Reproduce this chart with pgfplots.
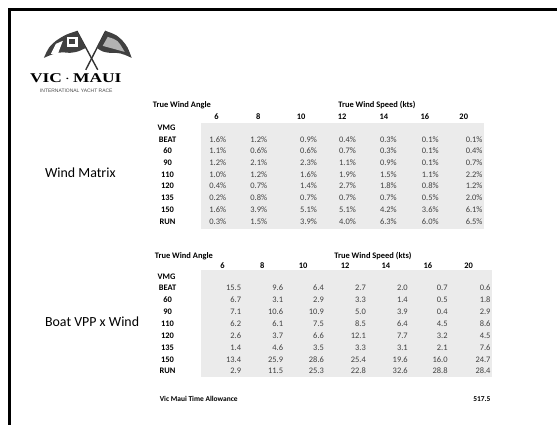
\documentclass[border=0pt]{standalone}
\usepackage{pgfplots}
\pgfplotsset{compat=1.18}
\usepackage{pgfplotstable}
\usepackage{fontspec}
\setmainfont{Carlito}[Numbers=Lining]
\newfontfamily\logoserif{Liberation Serif}
\newfontfamily\logosans{Liberation Sans}
\definecolor{cellgray}{HTML}{EBEBEB}
\definecolor{valtext}{HTML}{404040}

% Wind Matrix (percent); y = baseline position of each row
\pgfplotstableread{
y      lab  a     b     c     d     e     f     g
142.5  BEAT 1.6   1.2   0.9   0.4   0.3   0.1   0.1
154.25 60   1.1   0.6   0.6   0.7   0.3   0.1   0.4
166.0  90   1.2   2.1   2.3   1.1   0.9   0.1   0.7
177.75 110  1.0   1.2   1.6   1.9   1.5   1.1   2.2
189.5  120  0.4   0.7   1.4   2.7   1.8   0.8   1.2
201.25 135  0.2   0.8   0.7   0.7   0.7   0.5   2.0
213.0  150  1.6   3.9   5.1   5.1   4.2   3.6   6.1
224.75 RUN  0.3   1.5   3.9   4.0   6.3   6.0   6.5
}\windmatrix

% Boat VPP x Wind; y = baseline position of each row
\pgfplotstableread{
y      lab  a     b     c     d     e     f     g
291.75 BEAT 15.5  9.6   6.4   2.7   2.0   0.7   0.6
303.6  60   6.7   3.1   2.9   3.3   1.4   0.5   1.8
315.5  90   7.1   10.6  10.9  5.0   3.9   0.4   2.9
327.4  110  6.2   6.1   7.5   8.5   6.4   4.5   8.6
339.25 120  2.6   3.7   6.6   12.1  7.7   3.2   4.5
351.1  135  1.4   4.6   3.5   3.3   3.1   2.1   7.6
363.0  150  13.4  25.9  28.6  25.4  19.6  16.0  24.7
374.75 RUN  2.9   11.5  25.3  22.8  32.6  28.8  28.4
}\vppwind

\begin{document}
\begin{tikzpicture}
\begin{axis}[
  width=558bp, height=426bp, scale only axis,
  xmin=0, xmax=558, ymin=0, ymax=426, y dir=reverse,
  axis lines=none, clip=false,
  every node near coord/.style={font=\fontsize{8.5}{10}\selectfont, inner sep=0pt},
]
% background and slide frame
\fill[white] (axis cs:0,0) rectangle (axis cs:558,426);
\draw[line width=3bp, black] (axis cs:10,426) -- (axis cs:10,10) -- (axis cs:558,10);

% ---- logo (decorative) ----
\draw[line width=1.4bp, black!80] (axis cs:77,31) -- (axis cs:98,70);
\draw[line width=1.4bp, black!80] (axis cs:106,31) -- (axis cs:86,70);
\fill[black!75] (axis cs:77,31) .. controls (axis cs:65,35) .. (axis cs:56,41)
   .. controls (axis cs:49,47) .. (axis cs:44,58)
   .. controls (axis cs:58,52) .. (axis cs:70,53)
   .. controls (axis cs:78,52) .. (axis cs:86,48) -- cycle;
\fill[white] (axis cs:56,44) -- (axis cs:63,41) -- (axis cs:58,54) -- (axis cs:51,54) -- cycle;
\fill[white] (axis cs:67,37) rectangle (axis cs:78,47);
\fill[black!75] (axis cs:69.5,39.5) rectangle (axis cs:75.5,44.5);
\fill[black!75] (axis cs:106,31) .. controls (axis cs:117,35) .. (axis cs:123,41)
   .. controls (axis cs:128,47) .. (axis cs:132,58)
   .. controls (axis cs:121,53) .. (axis cs:110,53)
   .. controls (axis cs:103,52) .. (axis cs:97,48) -- cycle;
\fill[black!30] (axis cs:108,37) .. controls (axis cs:118,40) .. (axis cs:125,52)
   .. controls (axis cs:115,49) .. (axis cs:103,46) -- cycle;
\node[anchor=center, inner sep=0pt] at (axis cs:76,78)
  {\scalebox{1.3}[1]{\logoserif\bfseries\fontsize{13.5}{14}\selectfont VIC\,$\cdot$\,MAUI}};
\node[anchor=center, inner sep=0pt, text=black!70] at (axis cs:76.5,91)
  {\logosans\fontsize{5}{6}\selectfont INTERNATIONAL YACHT RACE};

% ---- section titles ----
\node[anchor=west, inner sep=0pt] at (axis cs:45,173) {\fontsize{14}{16}\selectfont Wind Matrix};
\node[anchor=west, inner sep=0pt] at (axis cs:45,323) {\fontsize{14}{16}\selectfont Boat VPP x Wind};

% ---- table 1 ----
\fill[cellgray] (axis cs:202,123) rectangle (axis cs:485,230);
\node[anchor=base west, inner sep=0pt, font=\bfseries\fontsize{8.5}{10}\selectfont] at (axis cs:153,107.5) {True Wind Angle};
\node[anchor=base west, inner sep=0pt, font=\bfseries\fontsize{8.5}{10}\selectfont] at (axis cs:339,107.5) {True Wind Speed (kts)};
\foreach \xx/\ll in {217/6,259/8,302/10,343/12,385/14,426/16,465/20}{
  \edef\tmp{\noexpand\node[anchor=base, inner sep=0pt, font=\noexpand\bfseries\noexpand\fontsize{8.5}{10}\noexpand\selectfont] at (axis cs:\xx,119.5) {\ll};}\tmp
}
\node[anchor=base, inner sep=0pt, font=\bfseries\fontsize{8.5}{10}\selectfont] at (axis cs:167,130.75) {VMG};
\addplot[draw=none, mark=none, point meta=explicit symbolic, nodes near coords,
  every node near coord/.append style={anchor=base, font=\bfseries\fontsize{8.5}{10}\selectfont}]
  table[x expr=168, y=y, meta=lab] {\windmatrix};
\foreach \col/\xx in {a/227,b/268,c/318,d/357,e/398,f/440,g/484}{
  \edef\tmp{\noexpand\addplot[draw=none, mark=none, point meta=explicit, nodes near coords={\noexpand\pgfmathprintnumber[assume math mode=true,fixed,fixed zerofill,precision=1]{\noexpand\pgfplotspointmeta}\noexpand\%},
    every node near coord/.append style={anchor=base east, text=valtext}]
    table[x expr=\xx, y=y, meta=\col] {\noexpand\windmatrix};}\tmp
}

% ---- table 2 ----
\fill[cellgray] (axis cs:202,271) rectangle (axis cs:493,378);
\node[anchor=base west, inner sep=0pt, font=\bfseries\fontsize{8.5}{10}\selectfont] at (axis cs:155,259) {True Wind Angle};
\node[anchor=base west, inner sep=0pt, font=\bfseries\fontsize{8.5}{10}\selectfont] at (axis cs:335,259) {True Wind Speed (kts)};
\foreach \xx/\ll in {223/6,263/8,304/10,346/12,387/14,429/16,470/20}{
  \edef\tmp{\noexpand\node[anchor=base, inner sep=0pt, font=\noexpand\bfseries\noexpand\fontsize{8.5}{10}\noexpand\selectfont] at (axis cs:\xx,269) {\ll};}\tmp
}
\node[anchor=base, inner sep=0pt, font=\bfseries\fontsize{8.5}{10}\selectfont] at (axis cs:167,279.9) {VMG};
\addplot[draw=none, mark=none, point meta=explicit symbolic, nodes near coords,
  every node near coord/.append style={anchor=base, font=\bfseries\fontsize{8.5}{10}\selectfont}]
  table[x expr=168, y=y, meta=lab] {\vppwind};
\foreach \col/\xx in {a/242,b/284,c/325,d/367,e/409,f/449,g/492}{
  \edef\tmp{\noexpand\addplot[draw=none, mark=none, point meta=explicit, nodes near coords={\noexpand\pgfmathprintnumber[assume math mode=true,fixed,fixed zerofill,precision=1]{\noexpand\pgfplotspointmeta}},
    every node near coord/.append style={anchor=base east, text=valtext}]
    table[x expr=\xx, y=y, meta=\col] {\noexpand\vppwind};}\tmp
}

% ---- allowance ----
\node[anchor=base west, inner sep=0pt, font=\bfseries\fontsize{7.5}{9}\selectfont] at (axis cs:160,402.5) {Vic Maui Time Allowance};
\node[anchor=base east, inner sep=0pt, font=\bfseries\fontsize{7.5}{9}\selectfont] at (axis cs:492,402.5) {517.5};
\end{axis}
\end{tikzpicture}
\end{document}
